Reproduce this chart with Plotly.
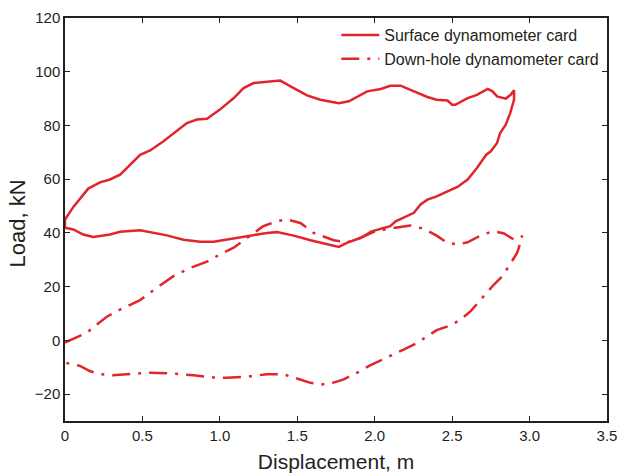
import plotly.graph_objects as go

surface_x = [0.0, 0.0, 0.054, 0.15, 0.226, 0.29, 0.356, 0.485, 0.55, 0.636, 0.787, 0.852, 0.917, 1.0,
             1.09, 1.153, 1.218, 1.305, 1.39, 1.477, 1.563, 1.649, 1.768, 1.833, 1.951, 2.04, 2.10,
             2.167, 2.253, 2.34, 2.40, 2.47, 2.50, 2.52, 2.60, 2.66, 2.73, 2.76, 2.79, 2.846, 2.878,
             2.90, 2.90, 2.875, 2.846, 2.81, 2.79, 2.75, 2.72, 2.66, 2.60, 2.534, 2.47, 2.40, 2.34,
             2.296, 2.253, 2.167, 2.135, 2.10, 2.06, 1.98, 1.91, 1.82, 1.768, 1.649, 1.585, 1.477,
             1.37, 1.305, 1.197, 1.089, 0.96, 0.873, 0.765, 0.658, 0.593, 0.485, 0.356, 0.29, 0.183,
             0.118, 0.054, 0.0]
surface_y = [41.5, 45.0, 49.7, 56.5, 58.8, 59.9, 61.7, 69.1, 70.7, 74.1, 80.9, 82.2, 82.5, 85.9,
             90.2, 93.9, 95.8, 96.2, 96.7, 93.9, 91.2, 89.6, 88.3, 89.0, 92.7, 93.6, 94.8,
             94.8, 92.7, 90.6, 89.6, 89.3, 87.7, 87.7, 90.2, 91.4, 93.6, 92.7, 90.8, 90.0, 91.4,
             93.1, 89.6, 84.6, 80.3, 77.2, 73.5, 70.4, 69.1, 64.2, 59.9, 57.1, 55.5, 53.6, 52.4,
             50.6, 47.5, 45.0, 44.3, 42.5, 41.9, 40.6, 38.2, 36.3, 34.8, 36.3, 37.3, 39.0,
             40.3, 40.0, 39.0, 37.9, 36.7, 36.7, 37.5, 39.1, 39.8, 41.0, 40.4, 39.4, 38.5,
             39.4, 41.3, 41.9]

downhole_x = [0.0, 0.075, 0.14, 0.205, 0.27, 0.356, 0.485, 0.593, 0.70, 0.81, 0.917, 1.0, 1.089,
              1.197, 1.28, 1.37, 1.434, 1.52, 1.606, 1.735, 1.82, 1.91, 1.99, 2.08, 2.23, 2.32,
              2.40, 2.47, 2.534, 2.60, 2.695, 2.77, 2.835, 2.90, 2.954, 2.92, 2.878, 2.825, 2.77,
              2.684, 2.62, 2.555, 2.49, 2.40, 2.275, 2.19, 2.10, 1.97, 1.887, 1.80, 1.735, 1.66,
              1.585, 1.50, 1.41, 1.305, 1.175, 1.046, 0.96, 0.83, 0.68, 0.55, 0.44, 0.31, 0.226,
              0.16, 0.097, 0.03, 0.0]
downhole_y = [-0.8, 1.0, 2.8, 5.9, 8.8, 11.5, 15.0, 19.6, 23.9, 27.0, 29.3, 32.0, 34.5,
              39.0, 42.5, 44.4, 45.0, 43.7, 40.0, 37.3, 36.5, 38.2, 40.3, 41.5, 42.8, 41.5,
              39.0, 36.3, 35.7, 36.5, 39.4, 40.6, 39.8, 37.5, 38.8, 32.6, 28.9, 23.9, 20.8,
              15.2, 10.9, 7.8, 5.6, 3.8, -0.9, -3.3, -5.8, -9.3, -12.0, -14.5, -15.7, -16.4,
              -15.8, -14.3, -12.6, -12.6, -13.5, -13.9, -13.8, -13.0, -12.3, -12.0, -12.4, -13.0, -12.6,
              -11.4, -9.5, -8.5, -8.3]

x_ticks = [0, 0.5, 1.0, 1.5, 2.0, 2.5, 3.0, 3.5]
x_tick_labels = ["0", "0.5", "1.0", "1.5", "2.0", "2.5", "3.0", "3.5"]
y_ticks = [-20, 0, 20, 40, 60, 80, 100, 120]

RED = "#E0262B"
FONT = "Arial, Liberation Sans, sans-serif"
INK = "#231F20"

fig = go.Figure()
fig.add_trace(go.Scatter(x=surface_x, y=surface_y, mode="lines",
                         name="Surface dynamometer card",
                         line=dict(color=RED, width=2.5)))
fig.add_trace(go.Scatter(x=downhole_x, y=downhole_y, mode="lines",
                         name="Down-hole dynamometer card",
                         line=dict(color=RED, width=2.5, dash="18px,8px,3px,8px")))

axis_common = dict(showline=True, linecolor=INK, linewidth=1.5, mirror="ticks",
                   ticks="inside", ticklen=5, tickwidth=1.2, tickcolor=INK,
                   showgrid=False, zeroline=False, automargin=False,
                   tickfont=dict(family=FONT, size=15, color=INK))

fig.update_layout(
    width=620, height=473,
    margin=dict(l=65, r=13, t=18, b=52),
    paper_bgcolor="white", plot_bgcolor="white",
    font=dict(family=FONT, color=INK),
    xaxis=dict(range=[0, 3.5], tickvals=x_ticks, ticktext=x_tick_labels,
               title=dict(text="Displacement, m", font=dict(family=FONT, size=21, color=INK)),
               **axis_common),
    yaxis=dict(range=[-30, 120], tickvals=y_ticks, **axis_common),
    legend=dict(x=0.995, y=1.0, xanchor="right", yanchor="top",
                bgcolor="rgba(0,0,0,0)", borderwidth=0,
                font=dict(family=FONT, size=16, color=INK),
                tracegroupgap=0, itemwidth=38),
)

fig.add_annotation(text="Load, kN", xref="paper", yref="paper", x=-0.087, y=0.49,
                   xanchor="center", yanchor="middle", textangle=-90, showarrow=False,
                   font=dict(family=FONT, size=22, color=INK))

fig.write_html("out.html")
